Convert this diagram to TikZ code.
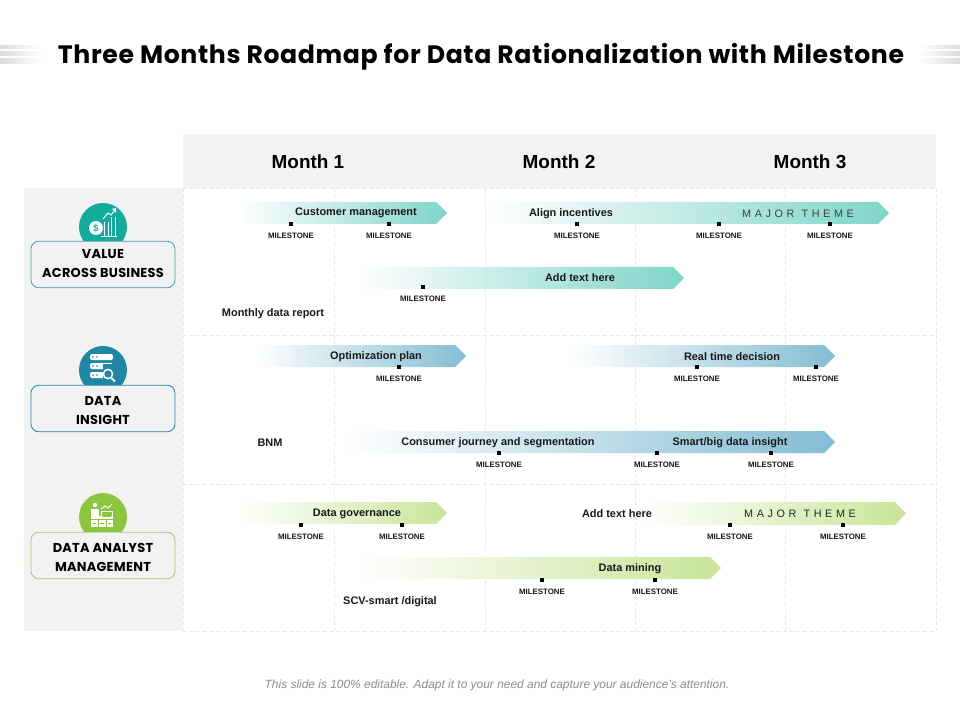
\documentclass[tikz,border=0pt]{standalone}
\usepackage{fontspec}
\setmainfont{Liberation Sans}
\newfontfamily\headfont{Poppins}
\newfontfamily\titlefont[LetterSpace=2.5]{Poppins}
\newfontfamily\boxfont[LetterSpace=1.8]{Poppins}
\usetikzlibrary{calc}
\definecolor{panel}{HTML}{F2F2F2}
\definecolor{gridc}{HTML}{E8E8E8}
\definecolor{teal}{HTML}{7FD5C9}
\definecolor{tealD}{HTML}{13AB9C}
\definecolor{tealB}{HTML}{3E9EA3}
\definecolor{blu}{HTML}{83BDD3}
\definecolor{bluD}{HTML}{1F87A6}
\definecolor{grn}{HTML}{C9E599}
\definecolor{grnD}{HTML}{8CC63F}
\definecolor{grnB}{HTML}{A5CA72}
\tikzset{
  gridline/.style={draw=gridc,line width=.5pt,densely dashed},
  msdot/.style={fill=black,inner sep=0pt,minimum size=3pt},
  mslabel/.style={font=\bfseries\fontsize{5.9}{7}\selectfont,inner sep=0pt,text=black!90},
  barlabel/.style={font=\bfseries\fontsize{8.2}{10}\selectfont,inner sep=0pt,text=black!90},
  theme/.style={font=\fontsize{8.1}{9}\selectfont,inner sep=0pt,text=black!75},
  monthlabel/.style={font=\bfseries\fontsize{14.2}{16}\selectfont,inner sep=0pt},
  headbox/.style={fill=panel,line width=.6pt,rounded corners=6pt,minimum width=108pt,minimum height=35pt,inner sep=0pt},
  headtext/.style={inner sep=0pt,align=center,font=\boxfont\bfseries\fontsize{9.7}{14}\selectfont},
  badge/.style={circle,minimum size=36pt,inner sep=0pt},
  iconl/.style={draw=white,line width=.7pt},
}
% \barshape{x0}{x1}{ytop}{ybottom}{colour}
\newcommand{\barshape}[5]{%
  \shade[left color=white,right color=#5,shading angle=90]
    (#1,#3) -- (#2-11,#3) -- (#2,{(#3+#4)/2}) -- (#2-11,#4) -- (#1,#4) -- cycle;}
% \stone{name}{x}{y of dot}
\newcommand{\stone}[3]{%
  \node[msdot] (d#1) at (#2,#3) {};
  \node[mslabel] (l#1) at (#2,#3+11.5) {MILESTONE};}
\begin{document}
\begin{tikzpicture}[x=0.75pt,y=-0.75pt]
\useasboundingbox (0,0) rectangle (960,720);
\fill[white] (0,0) rectangle (960,720);

% title stripes
\foreach \yy/\hh in {46/3,52/4,59/5}{
  \shade[left color=black!14,right color=white] (0,\yy) rectangle (42,\yy+\hh);
  \shade[left color=white,right color=black!14] (918,\yy) rectangle (960,\yy+\hh);
}
\node[inner sep=0pt,font=\titlefont\bfseries\fontsize{18.88}{24}\selectfont] (title) at (481,57) {Three Months Roadmap for Data Rationalization with Milestone};

% panels
\fill[panel] (183,134) rectangle (936,188);
\fill[panel] (24,188) rectangle (183,631);
\foreach \xx in {183,334,485,635,785,936}{\draw[gridline] (\xx,188) -- (\xx,631);}
\foreach \yy in {188,335,484,631}{\draw[gridline] (183,\yy) -- (936,\yy);}

\node[monthlabel] (m1) at (308,161.5) {Month 1};
\node[monthlabel] (m2) at (559,161.5) {Month 2};
\node[monthlabel] (m3) at (810,161.5) {Month 3};

% teal row
\barshape{238}{447}{202}{224}{teal}
\barshape{487}{889}{202}{224}{teal}
\barshape{355}{684}{267}{289}{teal}
% blue row
\barshape{255}{466}{345}{367}{blu}
\barshape{570}{835}{345}{367}{blu}
\barshape{345}{835}{431}{453}{blu}
% green row
\barshape{238}{447}{502}{524}{grn}
\barshape{640}{906}{502}{525}{grn}
\barshape{355}{721}{557}{579}{grn}

% badges
\node[badge,fill=tealD] (b1) at (103,227) {};
\node[badge,fill=bluD] (b2) at (103,370) {};
\node[badge,fill=grnD] (b3) at (103,517) {};

% icon 1: coin and chart
\fill[white] (96,228) circle (7);
\node[inner sep=0pt,font=\bfseries\fontsize{7}{8}\selectfont,text=tealD] (dollar) at (96,228) {\$};
\draw[iconl] (104,236) -- (104,222) (108,236) -- (108,222) (111,236) -- (111,217) (115,236) -- (115,217);
\draw[iconl] (103,219) -- (108,213) -- (111,215) -- (115,210);
\fill[white] (116,208) -- (116,213) -- (112,209) -- cycle;
\draw[iconl] (101,236.5) -- (117,236.5);

% icon 2: database and lens
\foreach \yy in {357,366,375}{
  \fill[white,rounded corners=1.5pt] (90,\yy-3) rectangle (113,\yy+3);
  \fill[bluD] (93,\yy) circle (.9) (97,\yy) circle (.9);
}
\fill[bluD] (103,364) rectangle (116,383);
\draw[white,line width=1.1pt] (108,374) circle (4.6);
\draw[white,line width=1.5pt] (111.5,378) -- (115,381.5);

% icon 3: analyst
\fill[white] (95,505) circle (2.2);
\fill[white] (91,509) rectangle (99,516);
\draw[iconl] (101,509) -- (105,506) -- (108,508) -- (112,504);
\fill[white] (91,516) rectangle (113,527);
\fill[grnD] (102,512) rectangle (111,517);
\draw[iconl] (101,511) rectangle (112,517);
\draw[grnD,line width=.5pt] (91,519.5) -- (113,519.5) (98,519.5) -- (98,527) (106,519.5) -- (106,527) (93,523) -- (96,523) (100,523) -- (104,523) (108,523) -- (111,523);

% heading boxes
\node[headbox,draw=tealB] (h1) at (103,264.5) {};
\node[headbox,draw=bluD] (h2) at (103,408.5) {};
\node[headbox,draw=grnB] (h3) at (103,555.5) {};
\node[headtext] (h1t) at (103,263.5) {VALUE\\ACROSS BUSINESS};
\node[headtext] (h2t) at (103,410.5) {DATA\\INSIGHT};
\node[headtext] (h3t) at (103,557.5) {DATA ANALYST\\MANAGEMENT};

% bar labels
\node[barlabel] (t1) at (356,213) {Customer management};
\node[barlabel] (t2) at (571,214) {Align incentives};
\node[theme] (t3) at (798,213.5) {M\,\,A\,\,J\,\,O\,\,R\,\,\,\,T\,\,H\,\,E\,\,M\,\,E};
\node[barlabel] (t4) at (580,278) {Add text here};
\node[barlabel] (t5) at (273,314) {Monthly data report};
\node[barlabel] (t6) at (376,357) {Optimization plan};
\node[barlabel] (t7) at (732,357) {Real time decision};
\node[barlabel] (t8) at (270,443) {BNM};
\node[barlabel] (t9) at (498,443) {Consumer journey and segmentation};
\node[barlabel] (t10) at (730,443) {Smart/big data insight};
\node[barlabel] (t11) at (357,514) {Data governance};
\node[barlabel] (t12) at (617,514) {Add text here};
\node[theme,text=black!85] (t13) at (800,513.5) {M\,\,A\,\,J\,\,O\,\,R\,\,\,\,T\,\,H\,\,E\,\,M\,\,E};
\node[barlabel] (t14) at (630,569) {Data mining};
\node[barlabel] (t15) at (390,602) {SCV-smart /digital};

% milestones
\stone{a}{291}{224}
\stone{b}{389}{224}
\stone{c}{577}{224}
\stone{d}{719}{224}
\stone{e}{830}{224}
\stone{f}{423}{287}
\stone{g}{399}{367}
\stone{h}{697}{367}
\stone{i}{816}{367}
\stone{j}{499}{453}
\stone{k}{657}{453}
\stone{l}{771}{453}
\stone{m}{301}{525}
\stone{n}{402}{525}
\stone{o}{730}{525}
\stone{p}{843}{525}
\stone{q}{542}{580}
\stone{r}{655}{580}

\node[inner sep=0pt,font=\itshape\fontsize{8.95}{10}\selectfont,text=black!45] (foot) at (497,685) {This slide is 100\% editable. Adapt it to your need and capture your audience's attention.};
\end{tikzpicture}
\end{document}
